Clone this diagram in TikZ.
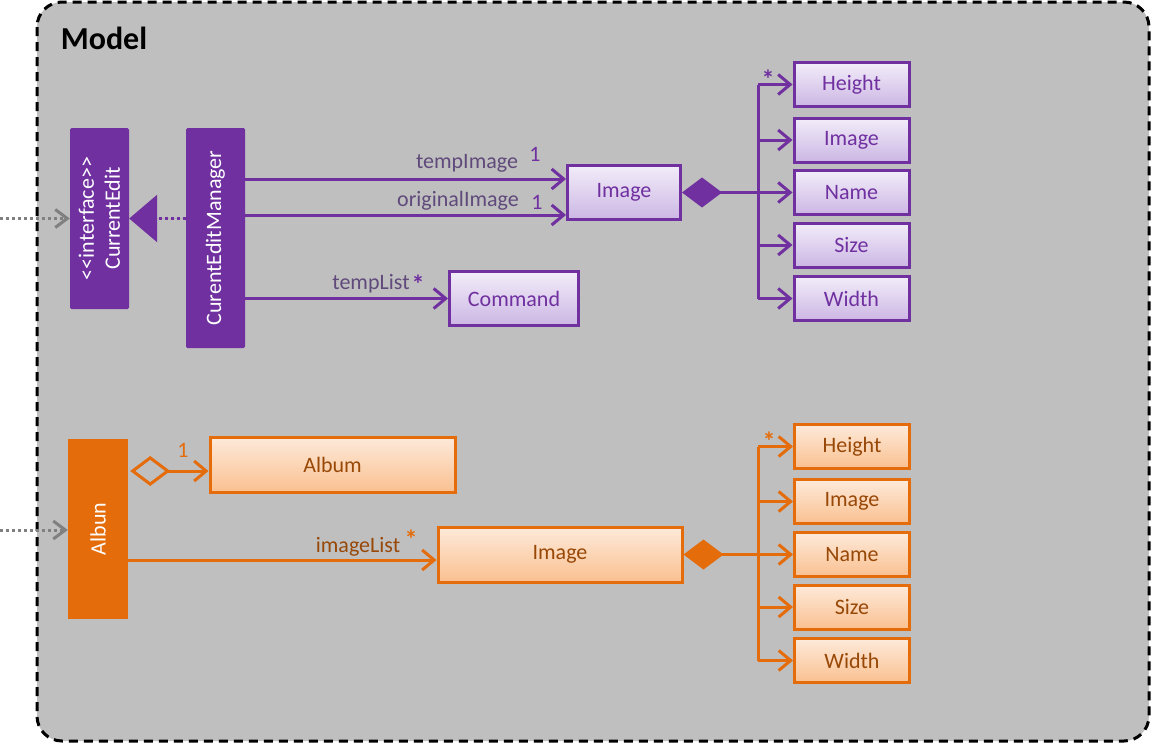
\documentclass[tikz,border=0pt]{standalone}
\usepackage{fontspec}
\setmainfont{Carlito}
\usetikzlibrary{calc,arrows.meta}

\definecolor{purp}{HTML}{7030A0}
\definecolor{purptop}{HTML}{F2EDF9}
\definecolor{purpbot}{HTML}{CCB6E4}
\definecolor{purptext}{HTML}{604A7B}
\definecolor{orng}{HTML}{E46C0A}
\definecolor{orngtop}{HTML}{FDEADA}
\definecolor{orngbot}{HTML}{FAC090}
\definecolor{orngtext}{HTML}{984807}
\definecolor{modelgray}{HTML}{BFBFBF}
\definecolor{depgray}{HTML}{808080}

\tikzset{
  txt/.style={font=\fontsize{22}{26}\selectfont, inner sep=0pt},
  star/.style={font=\fontsize{26}{26}\selectfont\bfseries, inner sep=0pt},
  pbox/.style={txt, draw=purp, line width=3pt, top color=purptop, bottom color=purpbot, text=purp, minimum width=115pt, minimum height=44pt},
  obox/.style={txt, draw=orng, line width=3pt, top color=orngtop, bottom color=orngbot, text=orngtext, minimum width=115pt, minimum height=44pt},
  pclass/.style={txt, fill=purp, text=white, rotate=90, rounded corners=1.5pt},
  oclass/.style={txt, fill=orng, text=white, rotate=90},
  plabel/.style={txt, text=purptext},
  olabel/.style={txt, text=orngtext},
  pline/.style={draw=purp, line width=3pt},
  oline/.style={draw=orng, line width=3pt},
  barb/.style={-{Straight Barb[length=12pt,width=20pt]}},
  dep/.style={draw=depgray, line width=3pt, dash pattern=on 3pt off 3pt, -{Straight Barb[length=12pt,width=18pt]}},
  frame/.style={draw=black, line width=3pt, dash pattern=on 9pt off 6pt, fill=modelgray, rounded corners=25pt}
}

\begin{document}
\begin{tikzpicture}[x=1pt,y=-1pt]
\useasboundingbox (0,0) rectangle (1152,744);
%frame
\draw [frame] (37,2) rectangle (1149,741);
\node [font=\fontsize{32}{36}\selectfont\bfseries, inner sep=0pt] (model) at (104,38) {Model};

%current edit part
\node [pclass, minimum width=181pt, minimum height=59pt, align=center] (cur) at (99.5,218.5) {\textless\kern0pt\textless interface\textgreater\kern0pt\textgreater\\CurrentEdit};
\node [pclass, minimum width=220pt, minimum height=59pt] (mgr) at (215.5,238) {CurentEditManager};
\node [pbox, minimum width=113pt, minimum height=54pt] (pimg) at (624,192.5) {Image};
\node [pbox, minimum width=129pt, minimum height=54pt] (cmd) at (514,298.5) {Command};
\node [pbox] (ph) at (851.5,84.5) {Height};
\node [pbox] (pi) at (851.5,140) {Image};
\node [pbox] (pn) at (851.5,192.5) {Name};
\node [pbox] (ps) at (851.5,245) {Size};
\node [pbox] (pw) at (851.5,298.5) {Width};

\coordinate (curin) at (0,218.5);
\draw [dep] (curin) -- (cur.north);
\draw [pline, dash pattern=on 3pt off 3pt, -{Triangle[length=28pt,width=47pt]}, fill=purp] (mgr.north |- cur.south) -- (cur.south);

\draw [pline, barb] ($(mgr.south |- pimg.west)+(0,-13.5)$) -- ($(pimg.west)+(0,-13.5)$);
\draw [pline, barb] ($(mgr.south |- pimg.west)+(0,22.5)$) -- ($(pimg.west)+(0,22.5)$);
\draw [pline, barb] (mgr.south |- cmd.west) -- (cmd.west);
\node [plabel] (ltemp) at (467,163) {tempImage};
\node [txt, text=purp] (mtemp) at (535,154) {1};
\node [plabel] (lorig) at (458,201) {originalImage};
\node [txt, text=purp] (morig) at (537,202) {1};
\node [plabel] (llist) at (371,284) {tempList};
\node [star, text=purp] (mlist) at (418,284) {*};

%composition
\coordinate (pbus) at (758,192.5);
\draw [pline, {Diamond[length=40pt,width=30pt]}-] (pimg.east) -- (pbus);
\draw [pline] (pbus |- ph.west) -- (pbus |- pw.west);
\foreach \b in {ph,pi,pn,ps,pw}
  \draw [pline, barb] (pbus |- \b.west) -- (\b.west);
\node [star, text=purp] (mph) at (768,79) {*};

%album part
\node [oclass, minimum width=180pt, minimum height=60pt] (alb) at (98,529) {Albun};
\node [obox, minimum width=245pt, minimum height=55pt] (album) at (332.5,464.5) {Album};
\node [obox, minimum width=244pt, minimum height=55pt] (oimg) at (560,554.5) {Image};
\node [obox] (oh) at (852,446.5) {Height};
\node [obox] (oi) at (852,501.5) {Image};
\node [obox] (on) at (852,554.5) {Name};
\node [obox] (os) at (852,607) {Size};
\node [obox] (ow) at (852,660.5) {Width};

\coordinate (albin) at (0,530);
\draw [dep] (albin) -- (alb.north |- albin);
\draw [oline, {Diamond[open,length=40pt,width=30pt]}-{Straight Barb[length=12pt,width=20pt]}] ($(alb.south |- album.west)+(2,6.5)$) -- ($(album.west)+(0,6.5)$);
\node [txt, text=orng] (malb) at (183,450) {1};
\draw [oline, barb] ($(alb.south |- oimg.west)+(0,5.5)$) -- ($(oimg.west)+(0,5.5)$);
\node [olabel] (limg) at (358,547) {imageList};
\node [star, text=orng] (mimg) at (411,539) {*};

%composition
\coordinate (obus) at (758,554.5);
\draw [oline, {Diamond[length=40pt,width=30pt]}-] (oimg.east) -- (obus);
\draw [oline] (obus |- oh.west) -- (obus |- ow.west);
\foreach \b in {oh,oi,on,os,ow}
  \draw [oline, barb] (obus |- \b.west) -- (\b.west);
\node [star, text=orng] (moh) at (769,441) {*};
\end{tikzpicture}
\end{document}
